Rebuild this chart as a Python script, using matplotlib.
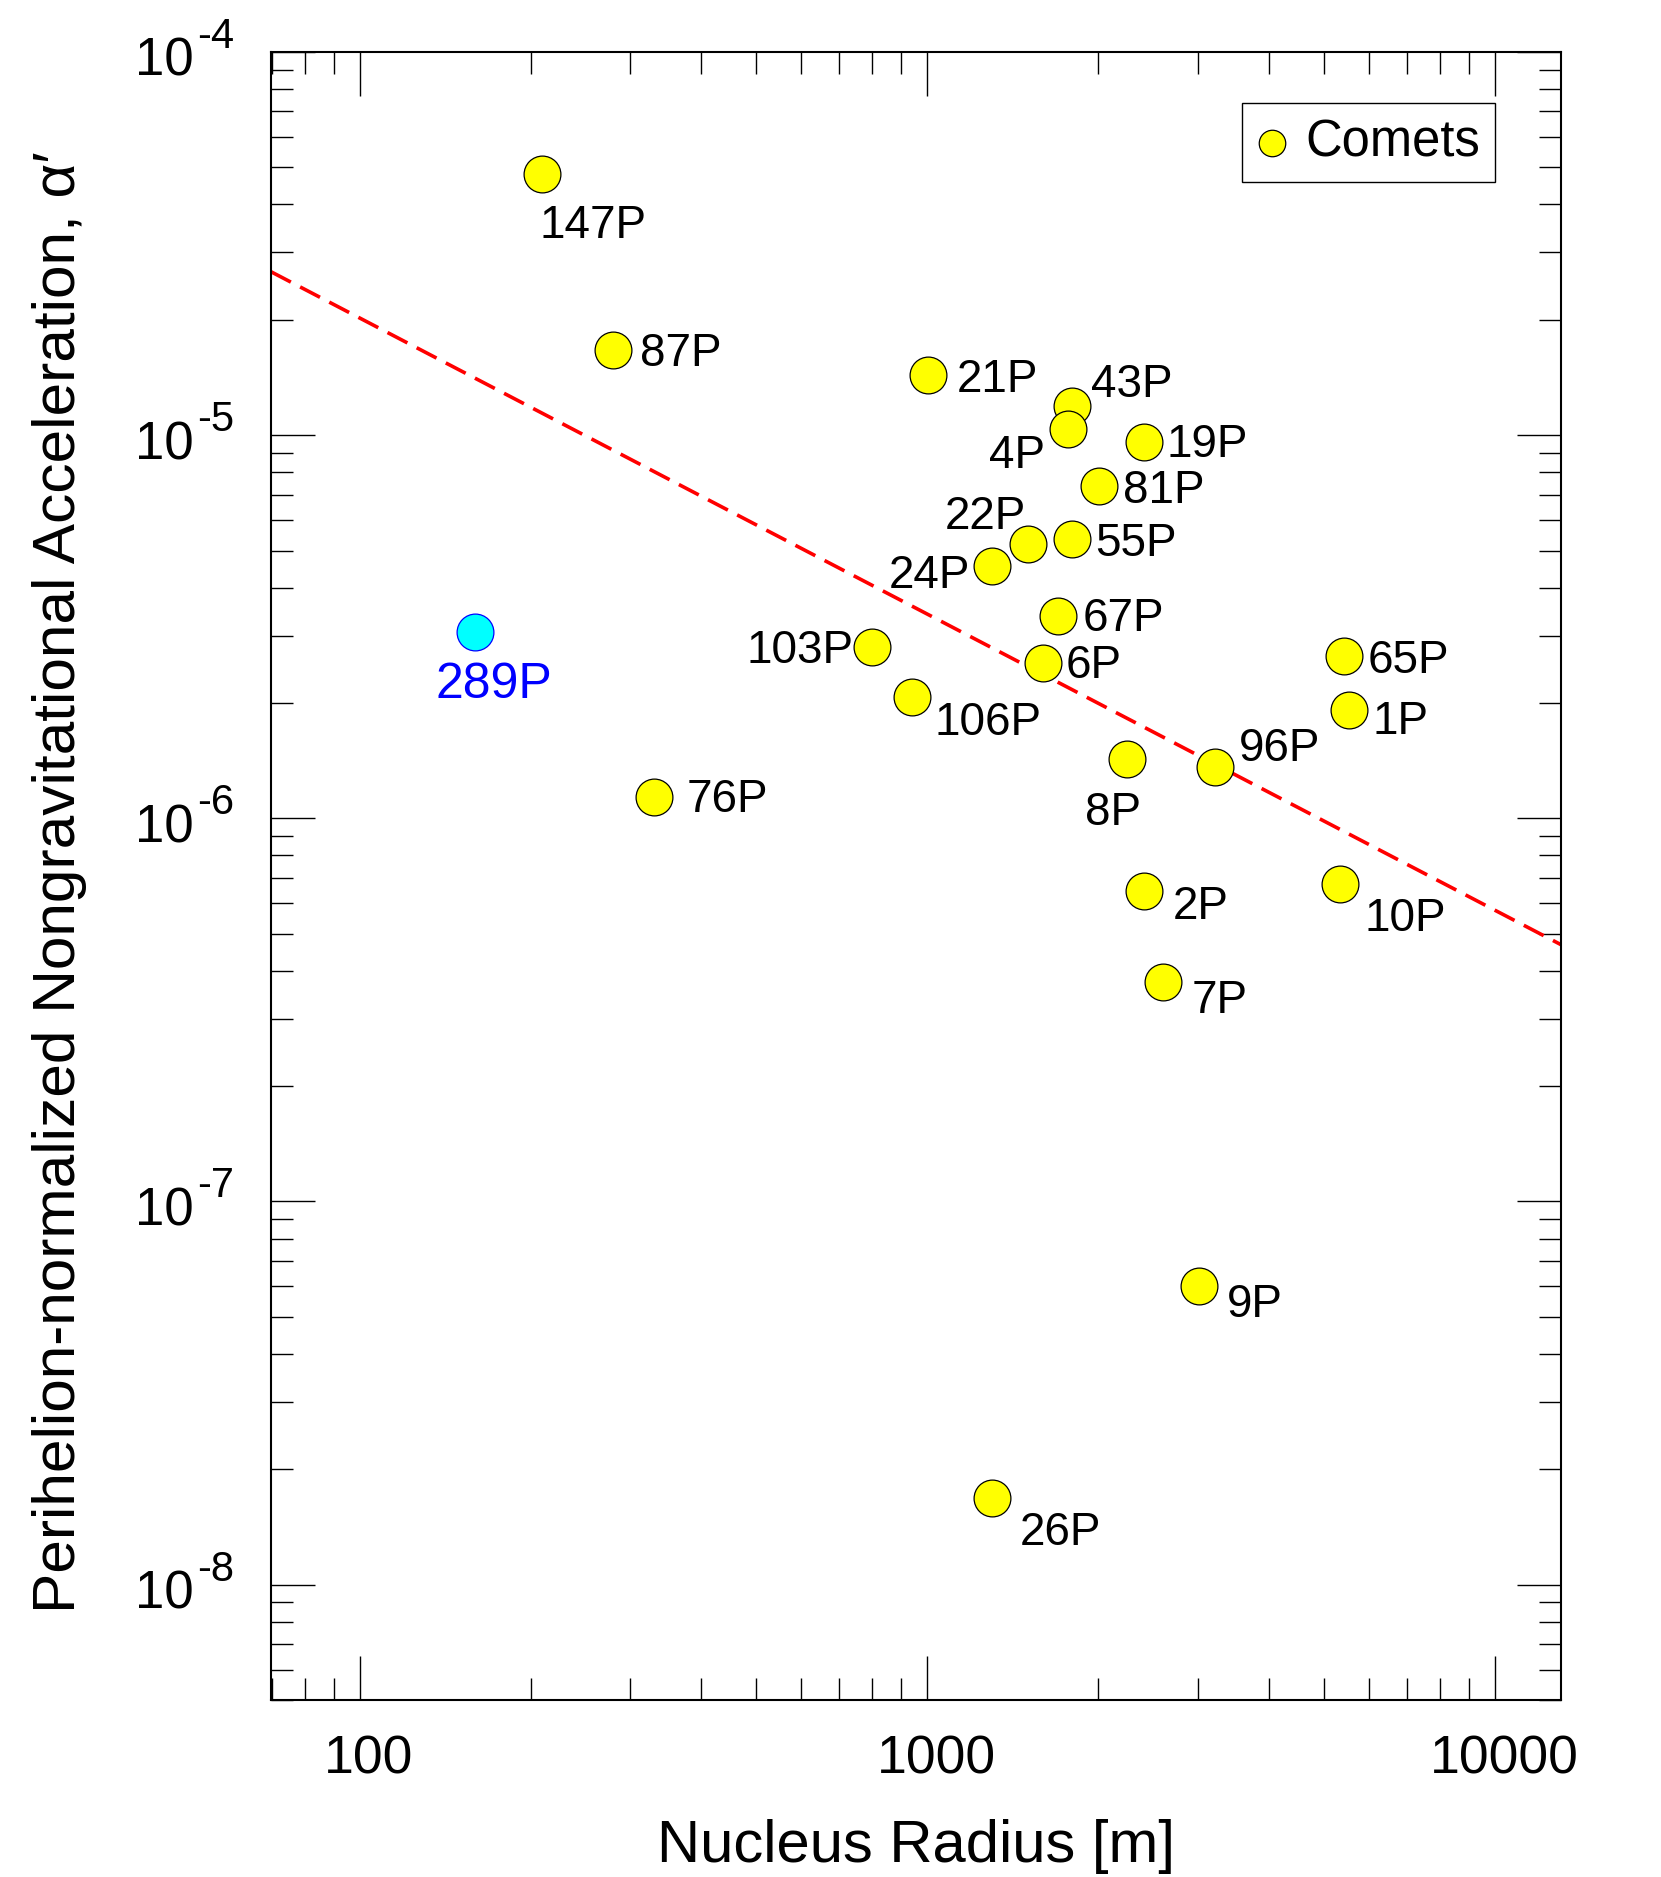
import matplotlib
matplotlib.use('Agg')
import matplotlib.pyplot as plt
import matplotlib.transforms as mtransforms
import numpy as np
from matplotlib.ticker import LogLocator, FuncFormatter, NullFormatter

# ---------------- data ----------------
names = ['147P', '87P', '21P', '43P', '4P', '19P', '81P', '22P', '55P', '24P',
         '67P', '103P', '6P', '65P', '1P', '106P', '96P', '8P', '76P', '2P',
         '10P', '7P', '9P', '26P']
radius_m = [209.5, 279.4, 1001, 1799, 1771, 2407, 2005, 1502, 1799, 1301,
            1700, 799, 1602, 5418, 5523, 938.6, 3211, 2249, 329.8, 2407,
            5325, 2603, 3009, 1301]
alpha_prime = [4.79e-5, 1.667e-5, 1.432e-5, 1.19e-5, 1.038e-5, 9.61e-6, 7.37e-6,
               5.19e-6, 5.35e-6, 4.56e-6, 3.376e-6, 2.80e-6, 2.55e-6, 2.65e-6,
               1.914e-6, 2.076e-6, 1.359e-6, 1.428e-6, 1.14e-6, 6.46e-7, 6.73e-7,
               3.73e-7, 6.01e-8, 1.68e-8]

special_name = '289P'
special_radius = 159.7
special_alpha = 3.065e-6

fit_radius = [69.8, 13070]
fit_alpha = [2.67e-5, 4.68e-7]

xticks_major = [100, 1000, 10000]
ytick_exponents = [-8, -7, -6, -5, -4]

# ---------------- layout (label offsets in pixels: dx right, dy down, ha) ----
label_layout = {
    '147P': (-2, 47, 'left'), '87P': (27, -1, 'left'), '21P': (29, 0, 'left'),
    '43P': (19, -26, 'left'), '4P': (-23, 23, 'right'), '19P': (23, -1, 'left'),
    '81P': (24, 1, 'left'), '22P': (-2, -32, 'right'), '55P': (23, 0, 'left'),
    '24P': (-22, 6, 'right'), '67P': (24, -1, 'left'), '103P': (-18, 0, 'right'),
    '6P': (22, -1, 'left'), '65P': (24, 0, 'left'), '1P': (24, 7, 'left'),
    '106P': (23, 22, 'left'), '96P': (24, -23, 'left'), '8P': (-14, 50, 'center'),
    '76P': (33, -1, 'left'), '2P': (29, 12, 'left'), '10P': (25, 30, 'left'),
    '7P': (28, 14, 'left'), '9P': (28, 14, 'left'), '26P': (28, 30, 'left'),
    '289P': (19, 48, 'center'),
}

FONT = ['Liberation Sans', 'DejaVu Sans']
plt.rcParams['font.family'] = FONT

DPI = 100
W, H = 1661, 1877
fig = plt.figure(figsize=(W / DPI, H / DPI), dpi=DPI)
L, R, T, B = 271, 1561, 52, 1700
ax = fig.add_axes([L / W, 1 - B / H, (R - L) / W, (B - T) / H])

ax.set_xscale('log')
ax.set_yscale('log')
ax.set_xlim(fit_radius[0], fit_radius[1])
ax.set_ylim(5e-9, 1e-4)

# fit line
ax.plot(fit_radius, fit_alpha, color='red', lw=2.6, dashes=(6.2, 2.9), zorder=2)

# comets
ax.scatter(radius_m, alpha_prime, s=26.5 ** 2, facecolor='#ffff00', edgecolor='black',
           linewidths=0.9, zorder=3, label='Comets')
ax.scatter([special_radius], [special_alpha], s=26.5 ** 2, facecolor='#00ffff',
           edgecolor='#0000ff', linewidths=0.9, zorder=3)

LBL_FS = 33
cap = 0.716 * LBL_FS * DPI / 72
for n, xv, yv in zip(names, radius_m, alpha_prime):
    dx, dy, ha = label_layout[n]
    ax.annotate(n, (xv, yv), xytext=(dx, -(dy + cap / 2)), textcoords='offset pixels',
                ha=ha, va='baseline', fontsize=LBL_FS, color='black', zorder=4)
SP_FS = 36
cap2 = 0.716 * SP_FS * DPI / 72
dx, dy, ha = label_layout[special_name]
ax.annotate(special_name, (special_radius, special_alpha), xytext=(dx, -(dy + cap2 / 2)),
            textcoords='offset pixels', ha=ha, va='baseline', fontsize=SP_FS,
            color='#0000ff', zorder=4)

# ticks
ax.xaxis.set_major_locator(matplotlib.ticker.FixedLocator(xticks_major))
ax.xaxis.set_minor_locator(LogLocator(base=10, subs=np.arange(2, 10), numticks=30))
ax.xaxis.set_major_formatter(FuncFormatter(lambda v, p: f'{v:.0f}'))
ax.xaxis.set_minor_formatter(NullFormatter())
ax.yaxis.set_major_locator(matplotlib.ticker.FixedLocator([10.0 ** e for e in ytick_exponents]))
ax.yaxis.set_minor_locator(LogLocator(base=10, subs=np.arange(2, 10), numticks=30))
ax.yaxis.set_major_formatter(NullFormatter())
ax.yaxis.set_minor_formatter(NullFormatter())

ax.tick_params(which='both', direction='in', top=True, right=True, width=1.0,
               labelsize=38.5)
ax.tick_params(which='major', length=31.7)
ax.tick_params(which='minor', length=15.6)
ax.tick_params(axis='x', which='major', pad=25)
for s in ax.spines.values():
    s.set_linewidth(1.5)

xshift = mtransforms.ScaledTranslation(9 / DPI, 0, fig.dpi_scale_trans)
for lab in ax.get_xticklabels():
    lab.set_transform(lab.get_transform() + xshift)

# y tick labels: "10" with raised exponent
blend = mtransforms.blended_transform_factory(ax.transAxes, ax.transData)
for e in ytick_exponents:
    t_base = blend + mtransforms.ScaledTranslation(-(L - 194) / DPI, -24 / DPI, fig.dpi_scale_trans)
    t_sup = blend + mtransforms.ScaledTranslation(-(L - 197) / DPI, 4 / DPI, fig.dpi_scale_trans)
    ax.text(0, 10.0 ** e, '10', transform=t_base, ha='right', va='baseline', fontsize=38)
    ax.text(0, 10.0 ** e, '-%d' % (-e), transform=t_sup, ha='left', va='baseline',
            fontsize=30)

# axis labels
fig.text((L + R) / 2 / W, 1 - 1862 / H, 'Nucleus Radius [m]', ha='center',
         va='baseline', fontsize=43)
fig.text(75 / W, 1 - 882 / H, 'Perihelion-normalized Nongravitational Acceleration, α′',
         rotation=90, rotation_mode='anchor', ha='center', va='baseline', fontsize=43.5)

# legend
leg = ax.legend(loc='upper right', bbox_to_anchor=((1495 - L) / (R - L), (B - 103) / (B - T)),
                borderaxespad=0, fontsize=36.5, frameon=True, fancybox=False,
                edgecolor='black', framealpha=1, markerscale=0.72, handlelength=0.6,
                handletextpad=0.35, borderpad=0.3, scatterpoints=1)
leg.get_frame().set_linewidth(1.0)

fig.savefig('out.png', dpi=DPI)
